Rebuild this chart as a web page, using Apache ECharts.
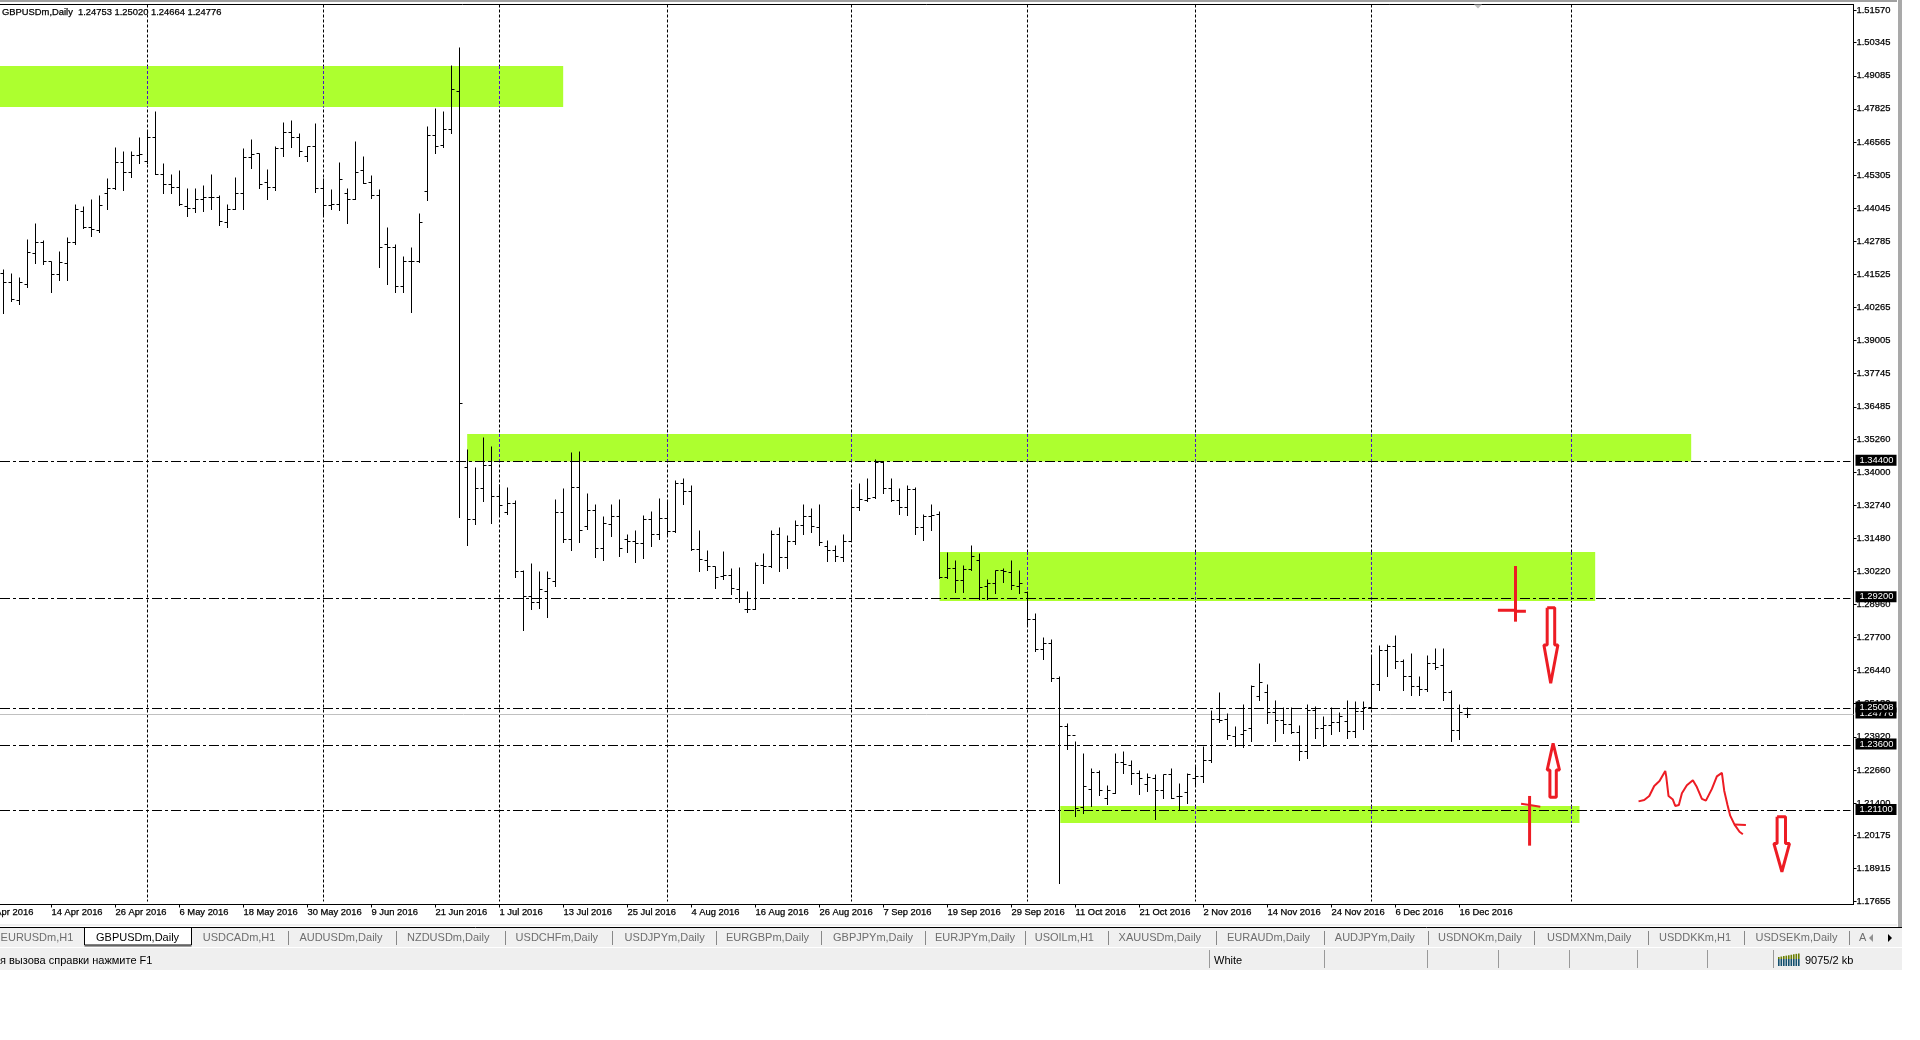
<!DOCTYPE html>
<html><head><meta charset="utf-8"><style>html,body{margin:0;padding:0;background:#fff}#c{width:1920px;height:1040px}</style>
<script src="https://cdn.jsdelivr.net/npm/echarts@6/dist/echarts.min.js"></script></head><body><div id="c"></div><script>
const opens=[1.4157,1.4122,1.4052,1.4115,1.4233,1.4275,1.4203,1.4153,1.4195,1.4275,1.4390,1.4332,1.4319,1.4461,1.4479,1.4579,1.4541,1.4606,1.4582,1.4672,1.4533,1.4493,1.4484,1.4410,1.4404,1.4438,1.4446,1.4446,1.4350,1.4399,1.4461,1.4598,1.4612,1.4502,1.4484,1.4633,1.4693,1.4672,1.4603,1.4641,1.4480,1.4415,1.4420,1.4461,1.4437,1.4546,1.4502,1.4453,1.4267,1.4255,1.4108,1.4202,1.4200,1.4469,1.4682,1.4643,1.4705,1.4849,
1.3418,1.3220,1.3338,1.3426,1.3308,1.3247,1.3281,1.3022,1.2927,1.2904,1.2946,1.2984,1.3247,1.3144,1.3342,1.3192,1.3254,1.3110,1.3201,1.3232,1.3144,1.3136,
1.3129,1.3220,1.3163,1.3224,1.3172,1.3355,1.3324,1.3106,1.3064,1.3039,1.3003,1.3007,1.2954,1.2876,1.2876,1.3045,1.3041,1.3163,1.3075,1.3134,1.3197,1.3232,1.3190,1.3115,1.3102,1.3075,1.3136,1.3266,1.3291,1.3304,1.3438,1.3339,1.3290,1.3266,1.3334,1.3190,1.3232,1.3237,1.2999,1.3031,1.2988,1.3028,1.3065,1.2965,1.2977,1.3024,1.3018,1.2966,1.2942,1.2839,1.2725,1.2748,
1.2615,1.2432,1.2398,1.2124,1.2193,1.2255,1.2156,1.2178,1.2295,1.2284,1.2253,1.2212,1.2233,1.2189,1.2247,1.2163,1.2181,1.2234,1.2242,1.2303,1.2459,1.2459,1.2393,1.2399,1.2424,1.2546,1.2562,1.2485,1.2455,1.2440,1.2409,1.2337,1.2491,1.2424,1.2436,1.2447,1.2451,1.2413,1.2489,1.2504,1.2590,1.2719,1.2734,1.2677,1.2622,1.2584,1.2573,1.2673,1.2662,1.2562,1.2415,1.24753];
const highs=[1.4172,1.4157,1.4141,1.4287,1.4347,1.4280,1.4203,1.4240,1.4291,1.4420,1.4409,1.4439,1.4451,1.4519,1.4637,1.4622,1.4622,1.4672,1.4702,1.4771,1.4573,1.4531,1.4546,1.4481,1.4478,1.4489,1.4531,1.4452,1.4417,1.4523,1.4633,1.4664,1.4613,1.4550,1.4641,1.4729,1.4740,1.4687,1.4641,1.4725,1.4519,1.4474,1.4580,1.4481,1.4660,1.4600,1.4527,1.4474,1.4329,1.4268,1.4219,1.4253,1.4386,1.4717,1.4782,1.4774,1.4946,1.5018,
1.3484,1.3419,1.3532,1.3499,1.3353,1.3343,1.3290,1.3027,1.3050,1.3020,1.3020,1.3297,1.3339,1.3476,1.3480,1.3317,1.3275,1.3229,1.3275,1.3294,1.3164,1.3176,
1.3236,1.3248,1.3301,1.3286,1.3366,1.3374,1.3347,1.3176,1.3100,1.3042,1.3096,1.3031,1.3035,1.2947,1.3054,1.3088,1.3176,1.3187,1.3157,1.3214,1.3275,1.3263,1.3278,1.3141,1.3122,1.3161,1.3332,1.3355,1.3377,1.3446,1.3442,1.3377,1.3336,1.3347,1.3343,1.3240,1.3278,1.3248,1.3092,1.3065,1.3046,1.3122,1.3088,1.2989,1.3027,1.3031,1.3062,1.3024,1.2947,1.2860,1.2772,1.2761,
1.2622,1.2443,1.2375,1.2327,1.2273,1.2262,1.2205,1.2327,1.2335,1.2300,1.2262,1.2251,1.2247,1.2249,1.2273,1.2213,1.2251,1.2281,1.2357,1.2494,1.2559,1.2479,1.2430,1.2514,1.2586,1.2673,1.2593,1.2532,1.2505,1.2505,1.2437,1.2514,1.2509,1.2471,1.2502,1.2483,1.2532,1.2528,1.2525,1.2696,1.2738,1.2745,1.2776,1.2685,1.2708,1.2623,1.2700,1.2730,1.2730,1.2570,1.2514,1.25020];
const lows=[1.4003,1.4049,1.4037,1.4102,1.4192,1.4190,1.4085,1.4131,1.4129,1.4268,1.4328,1.4295,1.4311,1.4398,1.4476,1.4470,1.4521,1.4573,1.4575,1.4531,1.4459,1.4459,1.4414,1.4371,1.4387,1.4391,1.4401,1.4337,1.4329,1.4398,1.4401,1.4557,1.4481,1.4439,1.4471,1.4600,1.4637,1.4601,1.4584,1.4463,1.4371,1.4401,1.4395,1.4348,1.4436,1.4497,1.4443,1.4178,1.4112,1.4085,1.4085,1.4009,1.4196,1.4432,1.4611,1.4637,1.4690,1.3226,
1.3120,1.3200,1.3286,1.3204,1.3230,1.3238,1.2997,1.2796,1.2875,1.2879,1.2848,1.2963,1.3130,1.3103,1.3130,1.3183,1.3073,1.3062,1.3153,1.3077,1.3092,1.3054,
1.3069,1.3115,1.3145,1.3161,1.3169,1.3278,1.3101,1.3020,1.3024,1.2955,1.2989,1.2932,1.2903,1.2864,1.2876,1.2974,1.3035,1.3020,1.3031,1.3126,1.3161,1.3168,1.3119,1.3058,1.3058,1.3061,1.3134,1.3252,1.3287,1.3298,1.3317,1.3286,1.3237,1.3233,1.3164,1.3138,1.3176,1.2995,1.2993,1.2943,1.2943,1.3024,1.2913,1.2913,1.2936,1.2978,1.2951,1.2936,1.2818,1.2715,1.2685,1.2601,
1.1832,1.2342,1.2087,1.2102,1.2128,1.2167,1.2133,1.2175,1.2251,1.2209,1.2171,1.2182,1.2079,1.2156,1.2156,1.2114,1.2140,1.2202,1.2220,1.2296,1.2448,1.2380,1.2357,1.2353,1.2376,1.2532,1.2441,1.2376,1.2406,1.2406,1.2300,1.2311,1.2384,1.2357,1.2399,1.2414,1.2384,1.2388,1.2418,1.2502,1.2567,1.2622,1.2654,1.2567,1.2548,1.2551,1.2563,1.2650,1.2529,1.2373,1.2380,1.24664];
const closes=[1.4122,1.4056,1.4122,1.4236,1.4275,1.4203,1.4153,1.4198,1.4275,1.4398,1.4332,1.4322,1.4413,1.4480,1.4579,1.4541,1.4606,1.4609,1.4672,1.4533,1.4493,1.4484,1.4417,1.4404,1.4438,1.4446,1.4446,1.4355,1.4399,1.4461,1.4598,1.4610,1.4495,1.4485,1.4633,1.4693,1.4672,1.4621,1.4641,1.4480,1.4415,1.4419,1.4515,1.4437,1.4541,1.4500,1.4453,1.4255,1.4255,1.4108,1.4202,1.4201,1.4351,1.4682,1.4640,1.4705,1.4857,1.3662,
1.3220,1.3338,1.3426,1.3308,1.3273,1.3281,1.3022,1.2927,1.2904,1.2954,1.2995,1.3247,1.3144,1.3342,1.3178,1.3254,1.3110,1.3205,1.3232,1.3110,1.3136,1.3129,
1.3220,1.3163,1.3224,1.3172,1.3355,1.3324,1.3106,1.3068,1.3039,1.2999,1.3007,1.2955,1.2918,1.2876,1.3046,1.3041,1.3163,1.3075,1.3134,1.3197,1.3232,1.3194,1.3133,1.3102,1.3079,1.3136,1.3266,1.3294,1.3300,1.3438,1.3339,1.3290,1.3266,1.3334,1.3190,1.3232,1.3233,1.2999,1.3031,1.2988,1.3028,1.3077,1.2962,1.2977,1.3024,1.3020,1.2969,1.2977,1.2839,1.2723,1.2749,1.2615,
1.2432,1.2398,1.2120,1.2203,1.2255,1.2186,1.2186,1.2295,1.2285,1.2253,1.2232,1.2239,1.2189,1.2247,1.2159,1.2163,1.2247,1.2242,1.2303,1.2459,1.2455,1.2398,1.2360,1.2417,1.2582,1.2597,1.2485,1.2455,1.2440,1.2409,1.2337,1.2491,1.2424,1.2436,1.2447,1.2471,1.2413,1.2489,1.2502,1.2592,1.2719,1.2734,1.2677,1.2622,1.2584,1.2573,1.2673,1.2655,1.2562,1.2416,1.2485,1.24776];

const priceTicks=[1.51570,1.50345,1.49085,1.47825,1.46565,1.45305,1.44045,1.42785,1.41525,1.40265,1.39005,1.37745,1.36485,1.35260,1.34000,1.32740,1.31480,1.30220,1.28960,1.27700,1.26440,1.25180,1.23920,1.22660,1.21400,1.20175,1.18915,1.17655];
const dateTickBars=[-2,6,14,22,30,38,46,54,62,70,78,86,94,102,110,118,126,134,142,150,158,166,174,182];
const dateTickLabels=['4 Apr 2016','14 Apr 2016','26 Apr 2016','6 May 2016','18 May 2016','30 May 2016','9 Jun 2016','21 Jun 2016','1 Jul 2016','13 Jul 2016','25 Jul 2016','4 Aug 2016','16 Aug 2016','26 Aug 2016','7 Sep 2016','19 Sep 2016','29 Sep 2016','11 Oct 2016','21 Oct 2016','2 Nov 2016','14 Nov 2016','24 Nov 2016','6 Dec 2016','16 Dec 2016'];
const monthBars=[18,40,62,83,106,128,149,171,196];
// zones: [first bar, last bar, upper price, lower price]
const zoneStart=[-3,57.96,117,132.1];
const zoneEnd=[69.96,210.96,198.96,197];
const zoneTop=[1.49457,1.35449,1.30958,1.21289];
const zoneBottom=[1.47897,1.34400,1.29092,1.20642];
const levels=[1.34400,1.29200,1.25008,1.23600,1.21100];
const lastPrice=1.24776;
const header='GBPUSDm,Daily  1.24753 1.25020 1.24664 1.24776';
// hand-drawn red marks as [bar, price]
const crossA=[[[189,1.30424],[189,1.28304]],[[186.8,1.28738],[189,1.28738]],[[189,1.287],[190.3,1.287]]];
const crossB=[[[190.76,1.21669],[190.76,1.19777]],[[189.7,1.21376],[190.76,1.21326],[192.1,1.21261]]];
const arrowDown1=[[192.96,1.28837],[193.9,1.28837],[193.9,1.27417],[194.3,1.27417],[193.4,1.25959],[192.55,1.27417],[192.96,1.27417],[192.96,1.28837]];
const arrowUp=[[193.7,1.23675],[194.5,1.22658],[194.1,1.22658],[194.1,1.21617],[193.3,1.21617],[193.3,1.22658],[192.96,1.22658],[193.7,1.23675]];
const arrowDown2=[[221.7,1.20877],[222.75,1.20877],[222.75,1.19857],[223.25,1.19857],[222.3,1.18784],[221.3,1.19857],[221.7,1.19857],[221.7,1.20877]];
const squiggle=[[204.38,1.21462],[205.09,1.21517],[205.72,1.21666],[206.34,1.22047],[207.0,1.22237],[207.72,1.22618],[207.84,1.22414],[208.13,1.21666],[208.67,1.21531],[208.97,1.21286],[209.42,1.21327],[209.8,1.21775],[210.42,1.22074],[211.17,1.22265],[211.67,1.22006],[212.3,1.21558],[212.8,1.2149],[213.55,1.21938],[214.17,1.22414],[214.8,1.2255],[215.09,1.2187],[215.5,1.21327],[215.84,1.20919],[216.38,1.20579],[217.0,1.20307],[217.42,1.20212]];
const squiggleTail=[[216.38,1.20579],[217.8,1.20565]];
const tabNames=['EURUSDm,H1','GBPUSDm,Daily','USDCADm,H1','AUDUSDm,Daily','NZDUSDm,Daily','USDCHFm,Daily','USDJPYm,Daily','EURGBPm,Daily','GBPJPYm,Daily','EURJPYm,Daily','USOILm,H1','XAUUSDm,Daily','EURAUDm,Daily','AUDJPYm,Daily','USDNOKm,Daily','USDMXNm,Daily','USDDKKm,H1','USDSEKm,Daily','A'];
const tabStarts=[0.6,96,202.7,299.4,407,515.6,624.6,726,833,935,1034.7,1118.6,1227,1334.8,1438,1547,1659,1755.5,1859];
const tabSeps=[288,396,504.6,612.4,716,820.6,924.7,1025,1108,1216,1324,1428.4,1534,1648,1744.4,1848.6];
const statusSeps=[1208.6,1324,1426.6,1497.6,1568.7,1636.7,1706.5,1772.6];

const FONT='"Liberation Sans",Arial,sans-serif';
const px=v=>Math.round(v-0.5)+0.5;
const noData=[[0]];
function seg(a,b,style){return{type:'line',shape:{x1:a[0],y1:a[1],x2:b[0],y2:b[1]},style:style};}
function custom(z,renderItem,data){return{type:'custom',z:z,silent:true,animation:false,data:data||noData,encode:{x:0,y:[]},clip:false,renderItem:renderItem,tooltip:{show:false}};}

const series=[
 custom(1,(p,api)=>{const top=p.coordSys.y,bot=p.coordSys.y+p.coordSys.height-3;
   const x=px(api.coord([api.value(0),1.3])[0]);
   return seg([x,top],[x,bot],{stroke:'#000',lineWidth:1,lineDash:[3,2],fill:null});},monthBars.map(b=>[b])),
 custom(2,(p,api)=>{const i=p.dataIndex;const a=api.coord([zoneStart[i],zoneTop[i]]),b=api.coord([zoneEnd[i],zoneBottom[i]]);
   const x0=Math.max(a[0],0);
   return{type:'rect',shape:{x:x0,y:a[1],width:b[0]-x0,height:b[1]-a[1]},style:{fill:'#adff2f'}};},zoneStart.map((v,i)=>[i])),
 custom(3,(p,api)=>{const ch=[];monthBars.forEach(m=>{zoneStart.forEach((s,i)=>{if(m>=s&&m<=zoneEnd[i]){
     const x=px(api.coord([m,1.3])[0]);const y0=api.coord([m,zoneTop[i]])[1],y1=api.coord([m,zoneBottom[i]])[1];
     ch.push(seg([x,y0],[x,y1],{stroke:'#4a10c8',lineWidth:1,lineDash:[3,2]}));}});});
   return{type:'group',children:ch};}),
 custom(4,(p,api)=>{const c=p.coordSys;const y=px(api.coord([0,lastPrice])[1]);
   return{type:'group',children:[seg([0,y],[c.x+c.width,y],{stroke:'#c0c0c0',lineWidth:1})]};}),
 custom(4,(p,api)=>{const c=p.coordSys;const v=api.value(0);const y=px(api.coord([0,v])[1]);
   return seg([0,y],[c.x+c.width-3,y],{stroke:'#000',lineWidth:1,lineDash:[10,3,3,3]});},levels.map(l=>[l])),
 custom(5,(p,api)=>{const i=api.value(0);const x=px(api.coord([i,1.3])[0]);const Y=v=>px(api.coord([i,v])[1]);
   const st={stroke:'#000',lineWidth:1};
   return{type:'group',children:[seg([x,Y(api.value(2))],[x,Y(api.value(3))+0.5],st),seg([x-3,Y(api.value(1))],[x,Y(api.value(1))],st),seg([x,Y(api.value(4))],[x+3,Y(api.value(4))],st)]};},opens.map((o,i)=>[i,o,highs[i],lows[i],closes[i]])),
 custom(6,(p,api)=>{const poly=(pts,w)=>({type:'polyline',shape:{points:pts.map(q=>api.coord(q))},style:{stroke:'#ed1c24',lineWidth:w,fill:null,lineJoin:'bevel'}});
   const ch=[];crossA.forEach(s=>ch.push(poly(s,3)));crossB.forEach((s,i)=>ch.push(poly(s,i?2:3)));
   ch.push(poly(arrowDown1,3),poly(arrowUp,3),poly(arrowDown2,3),poly(squiggle,2),poly(squiggleTail,2));
   return{type:'group',children:ch};}),
 custom(7,(p,api)=>{const c=p.coordSys;const ch=[];
   [lastPrice].concat(levels.slice().sort((a,b)=>a-b)).forEach(v=>{const y=api.coord([0,v])[1]-1.3;
     ch.push({type:'rect',shape:{x:c.x+c.width+2,y:y-5.5,width:41,height:11},style:{fill:'#000'}});
     ch.push({type:'text',style:{x:c.x+c.width+6,y:y,text:v.toFixed(5),fill:'#fff',font:'9.4px '+FONT,textVerticalAlign:'middle',verticalAlign:'middle'}});});
   return{type:'group',children:ch};})
];

const chrome=[];
const rect=(x,y,w,h,f)=>chrome.push({type:'rect',silent:true,z:10,shape:{x,y,width:w,height:h},style:{fill:f}});
const line=(x1,y1,x2,y2,s,w)=>chrome.push({type:'line',silent:true,z:11,shape:{x1,y1,x2,y2},style:{stroke:s,lineWidth:w||1}});
const txt=(x,y,t,c)=>chrome.push({type:'text',silent:true,z:12,x:x,y:y,style:{text:t,fill:c,font:'11px '+FONT,verticalAlign:'middle',textVerticalAlign:'middle'}});
rect(0,0,1897,2,'#a0a0a0');
rect(1898,0,4,927,'#a9a9a9');
rect(0,924.5,1897,1,'#e4e4e4');
rect(0,928,1902,19,'#f0f0f0');
rect(0,948,1902,22,'#efefef');
line(0,927.5,1902,927.5,'#000');
rect(84.5,927,107,18,'#fff');
line(84.5,927.5,191.5,927.5,'#000');line(84.5,927.5,84.5,945,'#000');line(191.5,927.5,191.5,945,'#000');line(84.5,945,191.5,945,'#000');
rect(84.5,945.5,107,1.5,'#a0a0a0');
tabSeps.forEach(x=>line(Math.round(x)+.5,931,Math.round(x)+.5,945,'#888'));
tabNames.forEach((t,i)=>txt(tabStarts[i],938,t,i===1?'#000':'#6e6e6e'));
chrome.push({type:'polygon',silent:true,z:12,shape:{points:[[1873,934],[1873,942],[1869,938]]},style:{fill:'#909090'}});
chrome.push({type:'polygon',silent:true,z:12,shape:{points:[[1888,934],[1888,942],[1892,938]]},style:{fill:'#000'}});
chrome.push({type:'polygon',silent:true,z:3,shape:{points:[[1474,4.5],[1482,4.5],[1478,8.5]]},style:{fill:'#c0c0c0'}});
txt(0,960.5,'я вызова справки нажмите F1','#000');
txt(1214,960.5,'White','#000');
txt(1805,960.5,'9075/2 kb','#000');
statusSeps.forEach(x=>line(Math.round(x)+.5,950,Math.round(x)+.5,968,'#999'));
for(let k=0;k<9;k++){const x=1778+k*2.5;rect(x,957-k*0.45,1.6,2+k*0.45,'#6b7f00');rect(x,959,1.6,7,'#14506e');}

const labelInk={fontFamily:FONT,fontSize:9.4,color:'#000',textBorderColor:'#000',textBorderWidth:0.25};
const chart=echarts.init(document.getElementById('c'),null,{renderer:'canvas'});
chart.setOption({
 animation:false,backgroundColor:'#fff',
 title:{text:header,left:2,top:7.5,padding:0,textStyle:{fontFamily:FONT,fontSize:9.4,fontWeight:'normal',color:'#000',textBorderColor:'#000',textBorderWidth:0.25}},
 grid:{left:-20,top:4.5,right:66.5,bottom:135.5,show:true,backgroundColor:'transparent',borderColor:'#000',borderWidth:1,containLabel:false,outerBoundsMode:'none'},
 xAxis:{type:'value',min:-2.9375,max:231.25,axisLine:{show:true,lineStyle:{color:'#000',width:1}},splitLine:{show:false},
  axisTick:{show:true,length:3,lineStyle:{color:'#000'},customValues:dateTickBars},
  axisLabel:Object.assign({show:true,customValues:dateTickBars,margin:3,align:'left',formatter:v=>dateTickLabels[dateTickBars.indexOf(v)]||''},labelInk)},
 yAxis:{type:'value',position:'right',min:1.17537,max:1.51798,scale:true,axisLine:{show:true,onZero:false,lineStyle:{color:'#000',width:1}},splitLine:{show:false},
  axisTick:{show:true,length:3,lineStyle:{color:'#000'},customValues:priceTicks},
  axisLabel:Object.assign({show:true,customValues:priceTicks,margin:3,align:'left',formatter:v=>v.toFixed(5)},labelInk)},
 series:series,
 graphic:{elements:chrome}
});
</script></body></html>
